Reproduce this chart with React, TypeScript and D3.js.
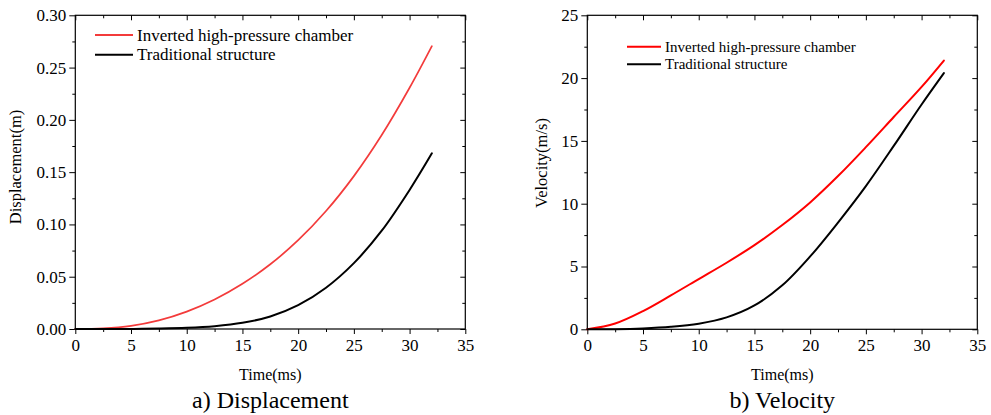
import React, { useEffect, useRef } from "react";
import * as d3 from "d3";

// time axis samples (ms)
const time = [0, 2.5, 5, 7.5, 10, 12.5, 15, 17.5, 20, 22.5, 25, 27.5, 30, 32];

// a) displacement (m)
const dispInverted = [0, 0.0006, 0.003, 0.0082, 0.0166, 0.0282, 0.0432, 0.0619, 0.0849, 0.1128, 0.1462, 0.1855, 0.2307, 0.2705];
const dispTraditional = [0, 0.00001, 0.0001, 0.0004, 0.0011, 0.0027, 0.0059, 0.012, 0.0228, 0.0395, 0.063, 0.094, 0.133, 0.168];

// b) velocity (m/s)
const velInverted = [0, 0.46, 1.45, 2.7, 4.0, 5.3, 6.7, 8.3, 10.1, 12.2, 14.5, 16.9, 19.3, 21.4];
const velTraditional = [0, 0.01, 0.07, 0.2, 0.45, 0.95, 1.9, 3.5, 5.8, 8.5, 11.4, 14.6, 17.9, 20.4];

const seriesNames = ["Inverted high-pressure chamber", "Traditional structure"];
const xTicks = [0, 5, 10, 15, 20, 25, 30, 35];
const dispTicks = [0, 0.05, 0.1, 0.15, 0.2, 0.25, 0.3];
const velTicks = [0, 5, 10, 15, 20, 25];

const FONT = '"Liberation Serif", "Times New Roman", serif';

type Panel = {
  left: number;
  top: number;
  width: number;
  height: number;
  yTicks: number[];
  yFormat: (v: number) => string;
  yTitle: string;
  yTitlePos: [number, number];
  caption: string;
  series: { values: number[]; color: string; width: number }[];
  legend: { x: number; y: number; gap: number; len: number; size: number };
};

const panels: Panel[] = [
  {
    left: 75.3,
    top: 15.3,
    width: 390,
    height: 313.7,
    yTicks: dispTicks,
    yFormat: d3.format(".2f"),
    yTitle: "Displacement(m)",
    yTitlePos: [16, 167],
    caption: "a) Displacement",
    series: [
      { values: dispInverted, color: "#f33b3b", width: 1.7 },
      { values: dispTraditional, color: "#000", width: 2 },
    ],
    legend: { x: 95, y: 35, gap: 19.7, len: 38, size: 17 },
  },
  {
    left: 587.3,
    top: 15.3,
    width: 390,
    height: 314,
    yTicks: velTicks,
    yFormat: d3.format("d"),
    yTitle: "Velocity(m/s)",
    yTitlePos: [542, 163],
    caption: "b) Velocity",
    series: [
      { values: velInverted, color: "#f00", width: 2 },
      { values: velTraditional, color: "#000", width: 2 },
    ],
    legend: { x: 627, y: 46.7, gap: 17.6, len: 34, size: 15 },
  },
];

function drawPanel(svg: d3.Selection<SVGSVGElement, unknown, null, undefined>, p: Panel) {
  const yMax = p.yTicks[p.yTicks.length - 1];
  const yStep = p.yTicks[1] - p.yTicks[0];
  const x = d3.scaleLinear().domain([0, 35]).range([p.left, p.left + p.width]);
  const y = d3.scaleLinear().domain([0, yMax]).range([p.top + p.height, p.top]);
  const minorX = d3.range(2.5, 35, 5);
  const minorY = p.yTicks.slice(0, -1).map((v) => v + yStep / 2);
  const bottom = p.top + p.height;
  const right = p.left + p.width;

  const g = svg.append("g").style("font-family", FONT);

  const style = (sel: d3.Selection<SVGGElement, unknown, null, undefined>) => {
    sel.attr("font-family", null).attr("font-size", null);
    sel.select(".domain").remove();
    sel.selectAll("line").attr("stroke", "#000").attr("stroke-width", 1);
    sel.selectAll("text").style("font-family", FONT).style("font-size", "17px").attr("fill", "#000");
  };

  // bottom axis, ticks outward
  g.append("g")
    .attr("transform", `translate(0,${bottom})`)
    .call(d3.axisBottom(x).tickValues(xTicks).tickSize(5).tickPadding(5).tickFormat(d3.format("d")))
    .call(style);
  g.append("g")
    .attr("transform", `translate(0,${bottom})`)
    .call(d3.axisBottom(x).tickValues(minorX).tickSize(3).tickFormat(() => ""))
    .call(style);
  // top axis, ticks inward
  g.append("g")
    .attr("transform", `translate(0,${p.top})`)
    .call(d3.axisTop(x).tickValues(xTicks).tickSize(-5).tickFormat(() => ""))
    .call(style);
  g.append("g")
    .attr("transform", `translate(0,${p.top})`)
    .call(d3.axisTop(x).tickValues(minorX).tickSize(-3).tickFormat(() => ""))
    .call(style);
  // left axis, ticks outward
  g.append("g")
    .attr("transform", `translate(${p.left},0)`)
    .call(d3.axisLeft(y).tickValues(p.yTicks).tickSize(6).tickPadding(3).tickFormat((d) => p.yFormat(+d)))
    .call(style);
  g.append("g")
    .attr("transform", `translate(${p.left},0)`)
    .call(d3.axisLeft(y).tickValues(minorY).tickSize(3).tickFormat(() => ""))
    .call(style);
  // right axis, ticks inward
  g.append("g")
    .attr("transform", `translate(${right},0)`)
    .call(d3.axisRight(y).tickValues(p.yTicks).tickSize(-5).tickFormat(() => ""))
    .call(style);
  g.append("g")
    .attr("transform", `translate(${right},0)`)
    .call(d3.axisRight(y).tickValues(minorY).tickSize(-3).tickFormat(() => ""))
    .call(style);

  g.append("rect")
    .attr("x", p.left)
    .attr("y", p.top)
    .attr("width", p.width)
    .attr("height", p.height)
    .attr("fill", "none")
    .attr("stroke", "#000")
    .attr("stroke-width", 1.2);

  const line = d3
    .line<number>()
    .x((_, i) => x(time[i]))
    .y((d) => y(d))
    .curve(d3.curveCatmullRom.alpha(0.5));

  p.series.forEach((s) => {
    g.append("path")
      .attr("d", line(s.values))
      .attr("fill", "none")
      .attr("stroke", s.color)
      .attr("stroke-width", s.width)
      .attr("stroke-linecap", "round");
  });

  // legend
  p.series.forEach((s, i) => {
    const ly = p.legend.y + i * p.legend.gap;
    g.append("line")
      .attr("x1", p.legend.x)
      .attr("x2", p.legend.x + p.legend.len)
      .attr("y1", ly)
      .attr("y2", ly)
      .attr("stroke", s.color)
      .attr("stroke-width", 2);
    g.append("text")
      .attr("x", p.legend.x + p.legend.len + 4)
      .attr("y", ly)
      .attr("dy", "0.33em")
      .style("font-size", `${p.legend.size}px`)
      .text(seriesNames[i]);
  });

  // titles
  g.append("text")
    .attr("transform", `translate(${p.yTitlePos[0]},${p.yTitlePos[1]}) rotate(-90)`)
    .attr("text-anchor", "middle")
    .attr("dy", "0.33em")
    .style("font-size", "16.5px")
    .text(p.yTitle);
  g.append("text")
    .attr("x", p.left + p.width / 2)
    .attr("y", 380)
    .attr("text-anchor", "middle")
    .style("font-size", "16px")
    .text("Time(ms)");
  g.append("text")
    .attr("x", p.left + p.width / 2)
    .attr("y", 408)
    .attr("text-anchor", "middle")
    .style("font-size", "24px")
    .text(p.caption);
}

export default function App() {
  const ref = useRef<SVGSVGElement>(null);

  useEffect(() => {
    const svg = d3.select(ref.current as SVGSVGElement);
    svg.selectAll("*").remove();
    panels.forEach((p) => drawPanel(svg, p));
  }, []);

  return (
    <svg
      ref={ref}
      width={991}
      height={415}
      style={{ position: "absolute", left: 0, top: 0, background: "#fff" }}
    />
  );
}
